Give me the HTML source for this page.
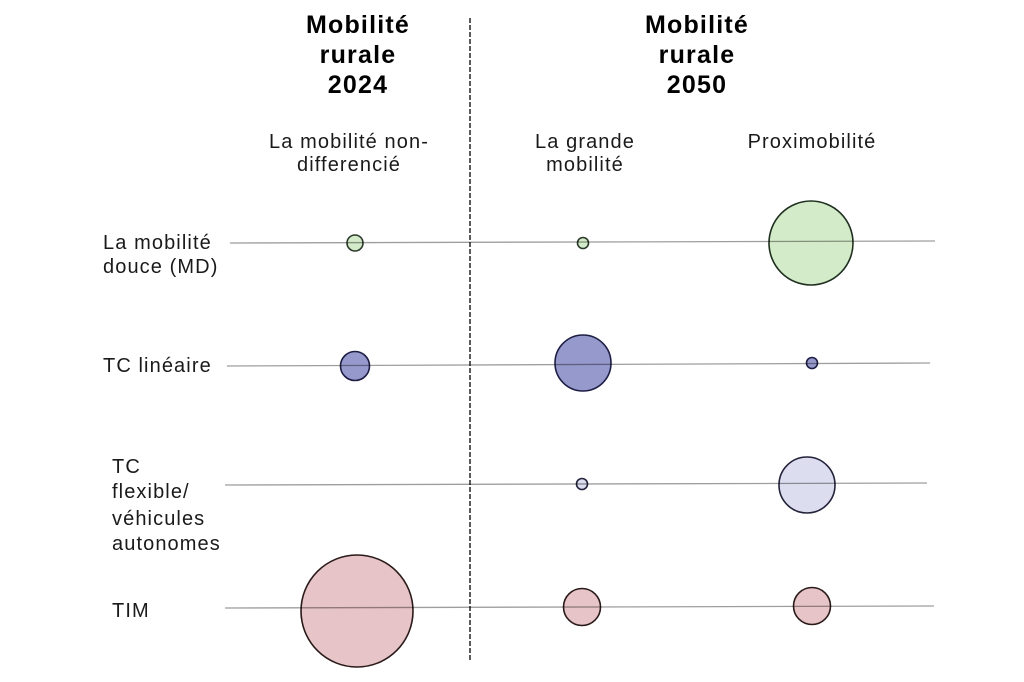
<!DOCTYPE html>
<html><head><meta charset="utf-8"><style>
html,body{margin:0;padding:0;background:#fff;}
svg{display:block;}
text{font-family:"Liberation Sans",sans-serif;fill:#1a1a1a;}
.t{font-weight:bold;font-size:25px;letter-spacing:1.2px;fill:#000;}
.s{font-size:20px;letter-spacing:1.1px;}
</style></head><body>
<svg width="1024" height="682" viewBox="0 0 1024 682" xmlns="http://www.w3.org/2000/svg">
<rect width="1024" height="682" fill="#fff"/>
<!-- titles -->
<text class="t" x="358" y="33" text-anchor="middle">Mobilité</text>
<text class="t" x="358" y="63" text-anchor="middle">rurale</text>
<text class="t" x="358" y="93" text-anchor="middle">2024</text>
<text class="t" x="697" y="33" text-anchor="middle">Mobilité</text>
<text class="t" x="697" y="63" text-anchor="middle">rurale</text>
<text class="t" x="697" y="93" text-anchor="middle">2050</text>
<!-- subtitles -->
<text class="s" x="349" y="148" text-anchor="middle">La mobilité non-</text>
<text class="s" x="349" y="171" text-anchor="middle">differencié</text>
<text class="s" x="585" y="148" text-anchor="middle">La grande</text>
<text class="s" x="585" y="171" text-anchor="middle">mobilité</text>
<text class="s" x="812" y="148" text-anchor="middle">Proximobilité</text>
<!-- row labels -->
<text class="s" x="103" y="249">La mobilité</text>
<text class="s" x="103" y="273">douce (MD)</text>
<text class="s" x="103" y="372">TC linéaire</text>
<text class="s" x="112" y="473">TC</text>
<text class="s" x="112" y="498">flexible/</text>
<text class="s" x="112" y="525">véhicules</text>
<text class="s" x="112" y="550">autonomes</text>
<text class="s" x="112" y="617">TIM</text>
<!-- dashed divider -->
<line x1="470" y1="18" x2="470" y2="662" stroke="#333" stroke-width="1.6" stroke-dasharray="5,2"/>
<!-- circles -->
<g stroke-width="1.6">
<circle cx="355" cy="243" r="8" fill="#d3ebc8" stroke="#2b3a2b"/>
<circle cx="583" cy="243" r="5.5" fill="#d3ebc8" stroke="#2b3a2b"/>
<circle cx="811" cy="243" r="42" fill="#d3ebc8" stroke="#1f2f1f"/>
<circle cx="355" cy="366" r="14.5" fill="#9699cc" stroke="#1e1e44"/>
<circle cx="583" cy="363" r="28" fill="#9699cc" stroke="#1e1e44"/>
<circle cx="812" cy="363" r="5.5" fill="#9699cc" stroke="#1e1e44"/>
<circle cx="582" cy="484" r="5.5" fill="#dcdeef" stroke="#22223a"/>
<circle cx="807" cy="485" r="28" fill="#dcdeef" stroke="#22223a"/>
<circle cx="357" cy="611" r="56" fill="#e7c4c7" stroke="#2a1a1a"/>
<circle cx="582" cy="607" r="18.5" fill="#e7c4c7" stroke="#2a1a1a"/>
<circle cx="812" cy="606" r="18.5" fill="#e7c4c7" stroke="#2a1a1a"/>
</g>
<!-- row lines -->
<g stroke="#000" stroke-opacity="0.38" stroke-width="1.3">
<line x1="230" y1="243" x2="935" y2="241"/>
<line x1="227" y1="366" x2="930" y2="363"/>
<line x1="225" y1="485" x2="927" y2="483"/>
<line x1="225" y1="608" x2="934" y2="606"/>
</g>
</svg>
</body></html>
